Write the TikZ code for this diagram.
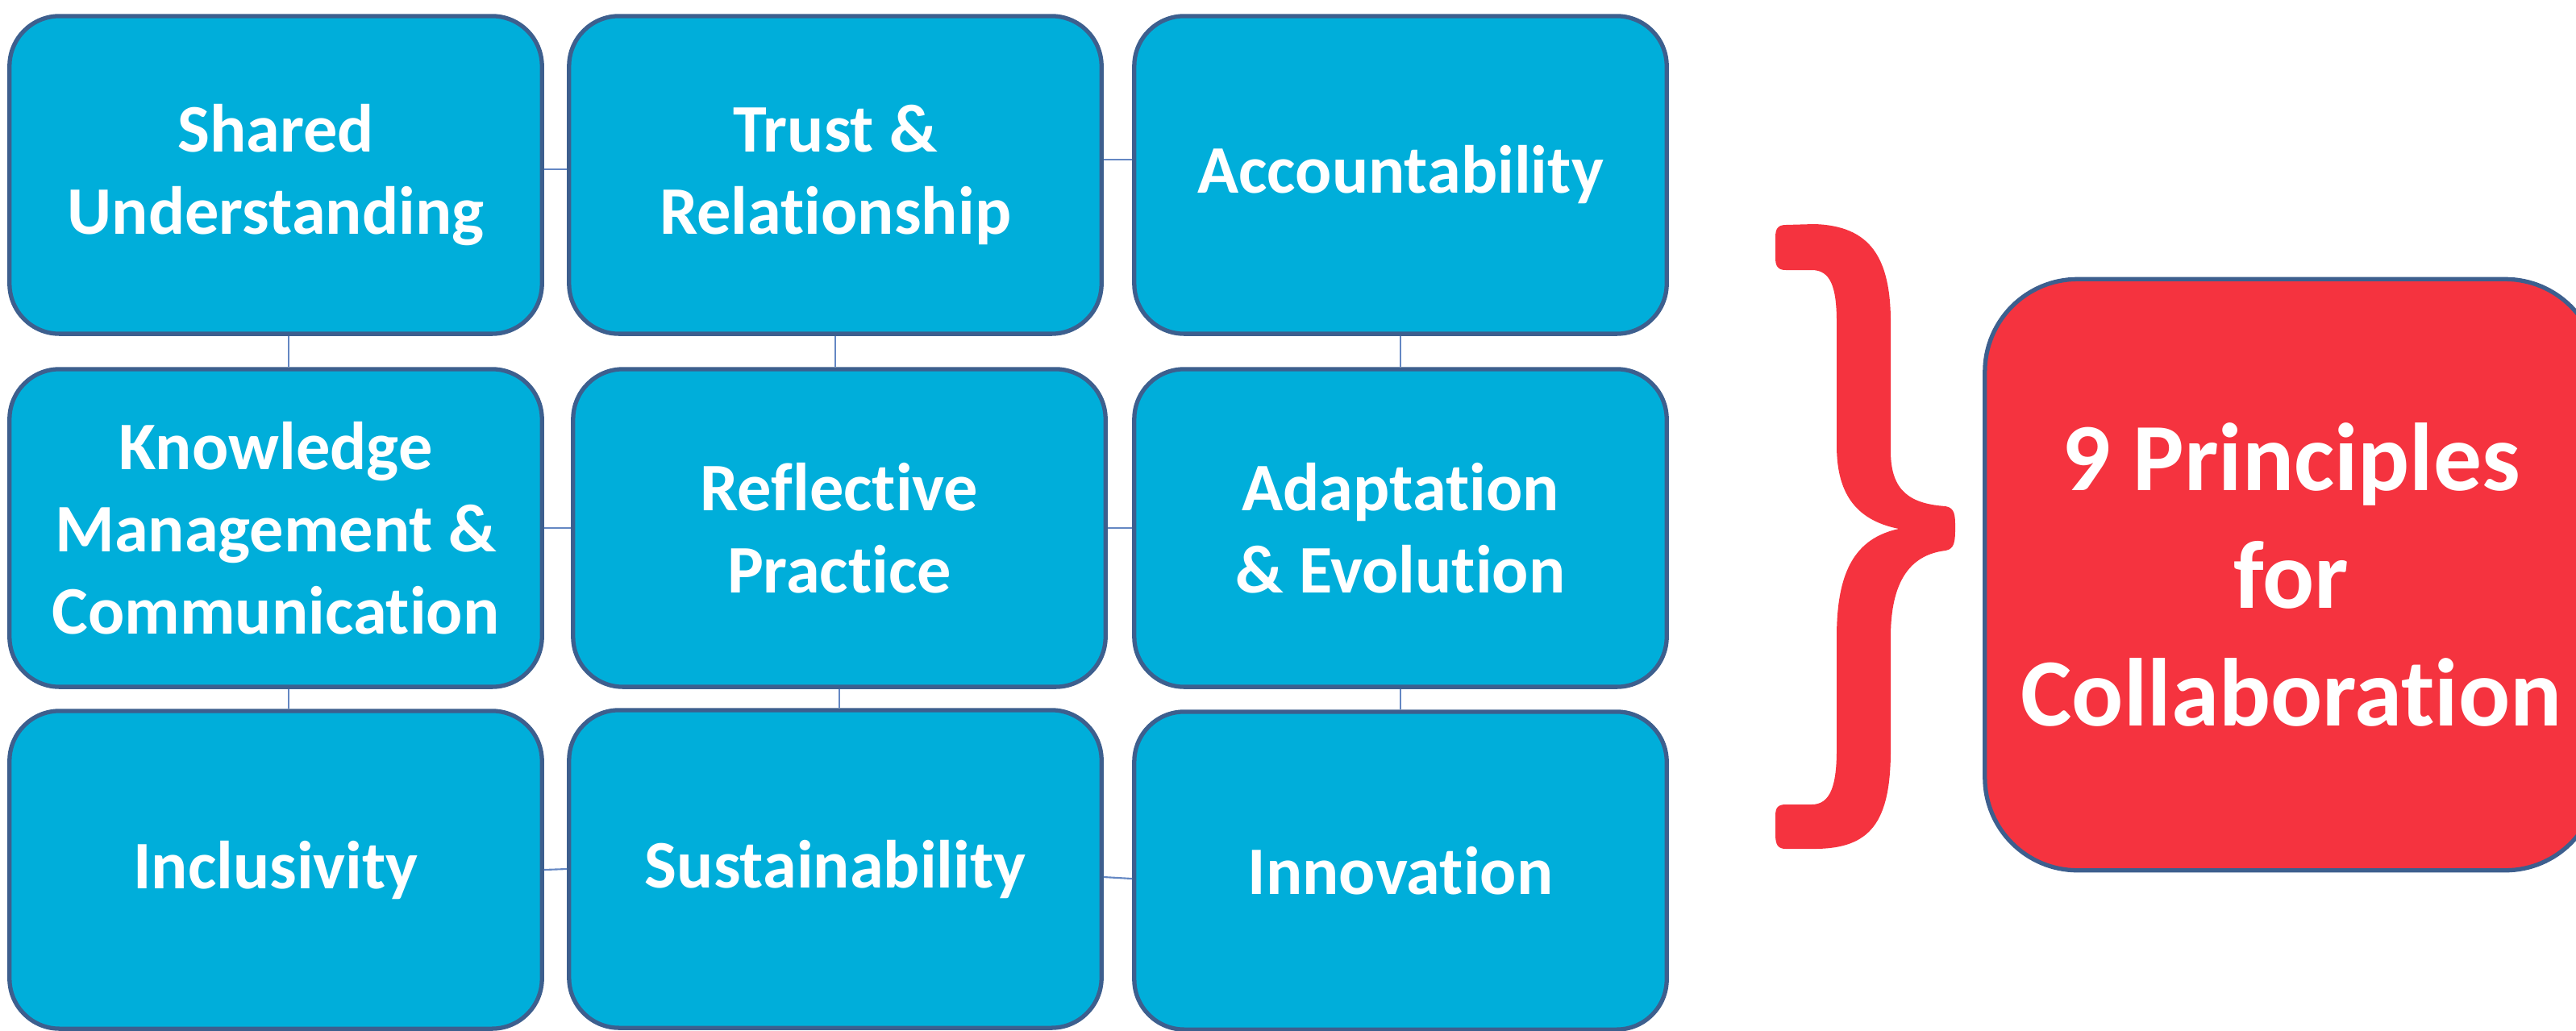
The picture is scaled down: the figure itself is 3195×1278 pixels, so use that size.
\documentclass[tikz,border=0pt]{standalone}
\usepackage{fontspec}
\setmainfont{Carlito}[Ligatures=NoCommon]

\definecolor{boxfill}{RGB}{0,174,218}
\definecolor{boxline}{RGB}{61,95,142}
\definecolor{linkblue}{RGB}{100,135,195}
\definecolor{bracered}{RGB}{245,51,63}

\begin{document}
\begin{tikzpicture}[x=0.01cm,y=-0.01cm,
	box/.style={draw=boxline,line width=1.5pt,fill=boxfill,rounded corners=0.62cm,
		minimum width=6.6cm,minimum height=3.94cm,inner sep=0pt,align=center,
		text=white,font=\fontsize{24}{29}\selectfont\bfseries},
	link/.style={linkblue,line width=0.6pt}]

\useasboundingbox (0,0) rectangle (3195,1278);

% the nine principles
\node[box] (share) at (342,217) {Shared\\Understanding};
\node[box] (trust) at (1036,217) {Trust \&\\Relationship};
\node[box] (acc) at (1737,217) {Accountability};
\node[box] (know) at (342,655) {Knowledge\\Management \&\\Communication};
\node[box] (refl) at (1041,655) {Reflective\\Practice};
\node[box] (adapt) at (1737,655) {Adaptation\\\& Evolution};
\node[box] (incl) at (342,1079) {Inclusivity};
\node[box] (sust) at (1036,1078) {Sustainability};
\node[box] (innov) at (1737,1080) {Innovation};

\draw[link] ([yshift=0.07cm]share.east)--([yshift=0.07cm]trust.west);
\draw[link] ([yshift=0.19cm]trust.east)--([yshift=0.19cm]acc.west);
\draw[link] (know.east)--(refl.west);
\draw[link] (refl.east)--(adapt.west);
\draw[link] (incl.east)--(sust.west);
\draw[link] ([yshift=-0.1cm]sust.east)--([yshift=-0.1cm]innov.west);

\draw[link] ([xshift=0.16cm]share.south)--([xshift=0.16cm]know.north);
\draw[link] ([xshift=0.16cm]know.south)--([xshift=0.16cm]incl.north);
\draw[link] (trust.south)--(trust.south|-refl.north);
\draw[link] (refl.south)--(refl.south|-sust.north);
\draw[link] (acc.south)--(adapt.north);
\draw[link] (adapt.south)--(innov.north);

% brace
\fill[bracered] (2215,279)--(2250,278) .. controls (2320,280) and (2345,320) .. (2345,400)
	--(2345,560) .. controls (2345,610) and (2370,625) .. (2413,628)
	.. controls (2425,630) and (2425,640) .. (2425,655)
	.. controls (2425,672) and (2424,681) .. (2413,683)
	.. controls (2370,688) and (2345,720) .. (2345,790)
	--(2345,930) .. controls (2345,1020) and (2320,1053) .. (2250,1053)
	--(2215,1053) .. controls (2205,1053) and (2202,1048) .. (2202,1035)
	--(2202,1012) .. controls (2202,1002) and (2205,998) .. (2215,998)
	--(2247,998) .. controls (2270,998) and (2278,975) .. (2278,930)
	--(2278,790) .. controls (2278,710) and (2300,668) .. (2355,656)
	.. controls (2300,645) and (2278,610) .. (2278,553)
	--(2278,400) .. controls (2278,355) and (2270,335) .. (2247,335)
	--(2215,335) .. controls (2205,335) and (2202,330) .. (2202,320)
	--(2202,294) .. controls (2202,284) and (2205,279) .. (2215,279)--cycle;

\node[box,fill=bracered,rounded corners=1.15cm,minimum width=7.6cm,minimum height=7.33cm,
	font=\fontsize{34}{41.5}\selectfont\bfseries] (nine) at (2842,713)
	{9 Principles\\for\\Collaboration};

\end{tikzpicture}
\end{document}
